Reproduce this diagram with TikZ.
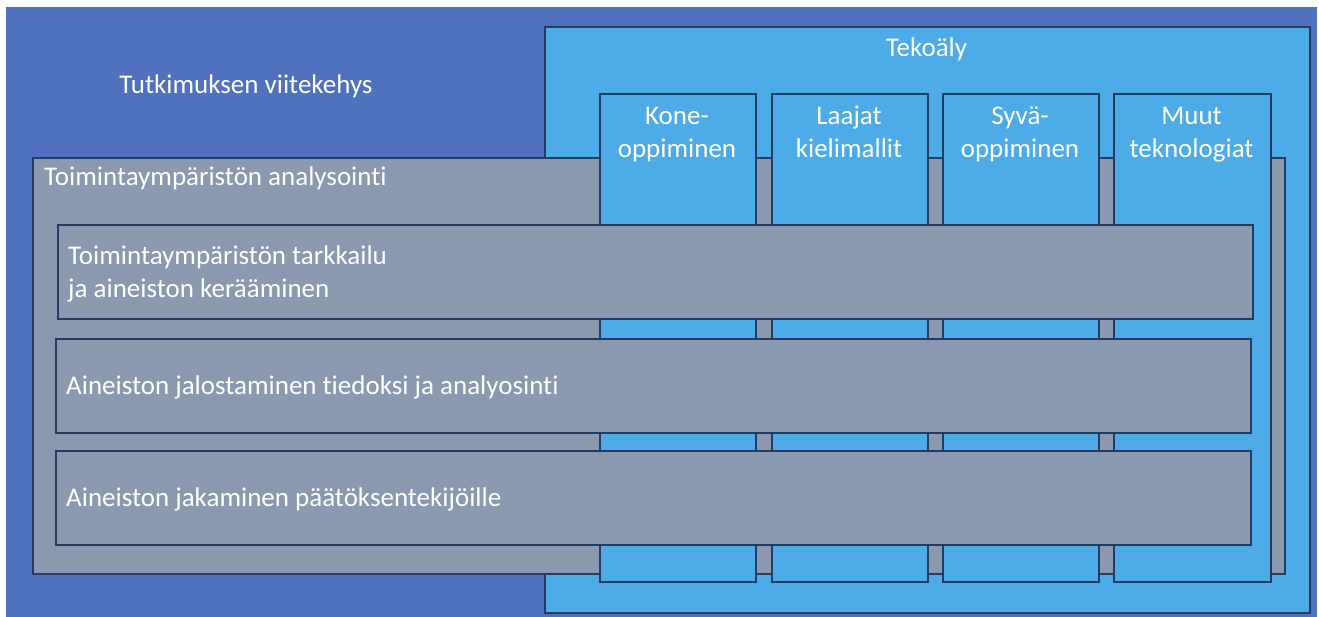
\documentclass[tikz,border=0pt]{standalone}
\usepackage{fontspec}
\setmainfont{Carlito}[Ligatures=NoCommon]
\definecolor{bgblue}{HTML}{5071BE}
\definecolor{aiblue}{HTML}{4DABE7}
\definecolor{boxgray}{HTML}{8A99B0}
\definecolor{edge}{HTML}{233C63}
\tikzset{
  box/.style={draw=edge, line width=1.6pt, inner sep=0pt, anchor=north west},
  aibox/.style={box, fill=aiblue},
  graybox/.style={box, fill=boxgray},
  lbl/.style={text=white, inner sep=0pt, font=\fontsize{27}{33.5}\selectfont},
}
\begin{document}
\begin{tikzpicture}[x=1pt,y=-1pt]
\useasboundingbox (0,0) rectangle (1319,617);
\fill[bgblue] (6,7) rectangle (1317,617);
% AI frame
\node[aibox, minimum width=765pt, minimum height=586pt] (ai) at (544,26) {};
% analysis frame
\node[graybox, minimum width=1252pt, minimum height=416pt] (env) at (32,157) {};
% columns
\node[aibox, minimum width=156pt, minimum height=488pt] (c1) at (599,93) {};
\node[aibox, minimum width=156pt, minimum height=488pt] (c2) at (771,93) {};
\node[aibox, minimum width=156pt, minimum height=488pt] (c3) at (942,93) {};
\node[aibox, minimum width=157pt, minimum height=488pt] (c4) at (1113,93) {};
% rows
\node[graybox, minimum width=1195pt, minimum height=94pt] (r1) at (57,224) {};
\node[graybox, minimum width=1195pt, minimum height=94pt] (r2) at (55,338) {};
\node[graybox, minimum width=1195pt, minimum height=94pt] (r3) at (55,450) {};
% texts
\node[lbl, anchor=base] (t0) at (246,94) {Tutkimuksen viitekehys};
\node[lbl, anchor=base] (t1) at (926.5,57) {Tekoäly};
\node[lbl, anchor=base west] (t2) at (44,186) {Toimintaympäristön analysointi};
\node[lbl, anchor=base, align=center] (k1) at (677,158) {Kone-\\oppiminen};
\node[lbl, anchor=base, align=center] (k2) at (849,158) {Laajat\\kielimallit};
\node[lbl, anchor=base, align=center] (k3) at (1020,158) {Syvä-\\oppiminen};
\node[lbl, anchor=base, align=center] (k4) at (1191.5,158) {Muut\\teknologiat};
\node[lbl, anchor=base west, align=left] (a1) at (68,298) {Toimintaympäristön tarkkailu\\ja aineiston kerääminen};
\node[lbl, anchor=west] (a2) at (66,387) {Aineiston jalostaminen tiedoksi ja analyosinti};
\node[lbl, anchor=west] (a3) at (66,499) {Aineiston jakaminen päätöksentekijöille};
\end{tikzpicture}
\end{document}
